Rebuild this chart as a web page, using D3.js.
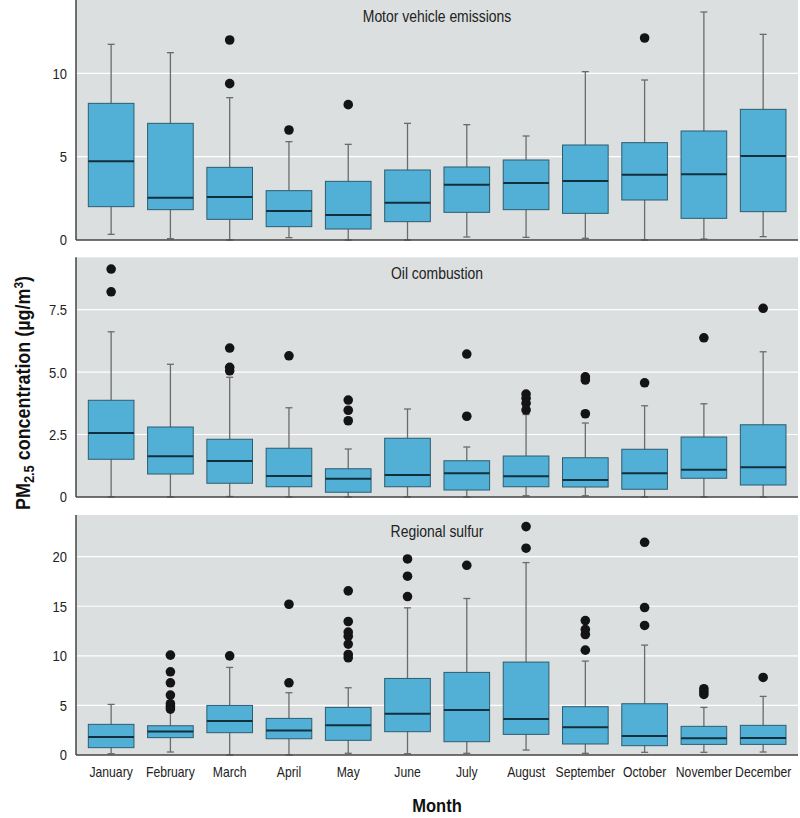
<!DOCTYPE html>
<html>
<head>
<meta charset="utf-8">
<script src="https://cdn.jsdelivr.net/npm/d3@7"></script>
<style>
  html, body { margin: 0; padding: 0; background: #fff; }
  svg { display: block; }
  text { font-family: "Liberation Sans", Arial, sans-serif; }
</style>
</head>
<body>
<svg id="chart" width="800" height="818"></svg>
<script>
const months = ["January","February","March","April","May","June","July","August","September","October","November","December"];

// Motor vehicle emissions
const motorLow = [0.34,0.08,0,0.14,0,0,0.18,0.16,0.1,0,0.06,0.2];
const motorQ1  = [2.0,1.82,1.24,0.8,0.66,1.1,1.66,1.82,1.6,2.4,1.3,1.7];
const motorMed = [4.72,2.54,2.58,1.74,1.5,2.24,3.32,3.42,3.54,3.92,3.94,5.04];
const motorQ3  = [8.2,7.0,4.36,2.96,3.52,4.2,4.38,4.8,5.7,5.84,6.54,7.84];
const motorHigh= [11.74,11.24,8.54,5.9,5.74,7.0,6.92,6.24,10.1,9.6,13.68,12.34];
const motorOut = [[],[],[12.0,9.38],[6.6],[8.12],[],[],[],[],[12.12],[],[]];
const motorTicks = [0,5,10];

// Oil combustion
const oilLow = [0,0,0.02,0,0,0,0,0.05,0.05,0,0,0];
const oilQ1  = [1.51,0.92,0.55,0.41,0.19,0.41,0.28,0.41,0.4,0.31,0.75,0.48];
const oilMed = [2.56,1.63,1.44,0.84,0.73,0.88,0.95,0.83,0.68,0.95,1.09,1.19];
const oilQ3  = [3.87,2.8,2.31,1.95,1.13,2.35,1.45,1.64,1.57,1.91,2.4,2.89];
const oilHigh= [6.61,5.31,4.79,3.57,1.92,3.52,2.0,3.3,2.96,3.65,3.73,5.81];
const oilOut = [[9.12,8.21],[],[5.96,5.19,5.05],[5.65],[3.88,3.47,3.05],[],[5.72,3.23],[4.12,3.95,3.75,3.48],[4.81,4.68,3.33],[4.57],[6.37],[7.55]];
const oilTicks = [0,2.5,5.0,7.5];

// Regional sulfur
const sulfLow = [0.13,0.3,0,0,0.17,0.13,0.17,0.5,0.17,0.27,0.27,0.3];
const sulfQ1  = [0.74,1.75,2.25,1.64,1.48,2.35,1.34,2.08,1.11,0.94,1.07,1.07];
const sulfMed = [1.81,2.38,3.42,2.48,2.99,4.16,4.53,3.63,2.79,1.91,1.68,1.71];
const sulfQ3  = [3.09,2.95,5.0,3.69,4.8,7.72,8.33,9.37,4.87,5.17,2.89,2.99];
const sulfHigh= [5.1,4.4,8.83,6.28,6.78,14.84,15.78,19.4,9.47,11.08,4.8,5.91];
const sulfOut = [[],[10.07,8.39,7.28,6.04,5.17,4.9,4.63],[10.0],[15.2,7.28],[16.55,13.46,12.39,11.98,11.18,10.14,9.8],[19.77,18.03,15.98],[19.13],[23.03,20.85],[13.56,12.66,12.15,10.57],[21.45,14.87,13.06],[6.68,6.4,6.11],[7.82]];
const sulfTicks = [0,5,10,15,20];

const panelTitles = ["Motor vehicle emissions","Oil combustion","Regional sulfur"];

const panels = [
  {title: panelTitles[0], low: motorLow, q1: motorQ1, med: motorMed, q3: motorQ3, high: motorHigh, out: motorOut, ticks: motorTicks, max: 14.4, top: 0, bottom: 240, fmt: d => d3.format("d")(d)},
  {title: panelTitles[1], low: oilLow, q1: oilQ1, med: oilMed, q3: oilQ3, high: oilHigh, out: oilOut, ticks: oilTicks, max: 9.59, top: 257.3, bottom: 497, fmt: d => d === 0 ? "0" : d3.format(".1f")(d)},
  {title: panelTitles[2], low: sulfLow, q1: sulfQ1, med: sulfMed, q3: sulfQ3, high: sulfHigh, out: sulfOut, ticks: sulfTicks, max: 24.2, top: 515, bottom: 755, fmt: d => d3.format("d")(d)}
];

const svg = d3.select("#chart");
const left = 76, right = 798;
const x = d3.scaleBand().domain(months).range([81.5, 792.8]);
const bw = x.bandwidth() * 0.77;
const cx = m => x(m) + x.bandwidth() / 2;
const SX = 0.84; // horizontal condensing for the narrow face

const boxFill = "#52b0d6", boxStroke = "#2b5d70", medColor = "#11303c", whiskColor = "#6b6b6b";

panels.forEach((p, pi) => {
  const y = d3.scaleLinear().domain([0, p.max]).range([p.bottom, p.top]);
  const g = svg.append("g");
  g.append("rect").attr("x", left).attr("y", p.top).attr("width", right - left).attr("height", p.bottom - p.top).attr("fill", "#dcdfe0");
  // gridlines
  g.selectAll(".grid").data(p.ticks.filter(t => t > 0)).join("line")
    .attr("x1", left).attr("x2", right).attr("y1", d => y(d)).attr("y2", d => y(d))
    .attr("stroke", "#ffffff").attr("stroke-width", 1.2);
  // axis
  const ax = g.append("g").attr("transform", `translate(${left - 9},0)`)
    .call(d3.axisLeft(y).tickValues(p.ticks).tickFormat(p.fmt).tickSize(0).tickPadding(0));
  ax.select(".domain").remove();
  ax.selectAll("text").attr("font-size", 15.5).attr("fill", "#222").attr("transform", `scale(${SX},1)`);
  // title
  g.append("g").attr("transform", `translate(437,${p.top + 22}) scale(0.87,1)`)
    .append("text").attr("text-anchor", "middle")
    .attr("font-size", 16).attr("fill", "#222").text(p.title);

  const data = months.map((m, i) => ({m, low: p.low[i], q1: p.q1[i], med: p.med[i], q3: p.q3[i], high: p.high[i], out: p.out[i]}));
  const bx = g.selectAll(".bx").data(data).join("g");
  // whiskers
  bx.append("line").attr("x1", d => cx(d.m)).attr("x2", d => cx(d.m))
    .attr("y1", d => y(d.low)).attr("y2", d => y(d.high)).attr("stroke", whiskColor).attr("stroke-width", 1.3);
  bx.append("line").attr("x1", d => cx(d.m) - 3.5).attr("x2", d => cx(d.m) + 3.5)
    .attr("y1", d => y(d.high)).attr("y2", d => y(d.high)).attr("stroke", whiskColor).attr("stroke-width", 1.3);
  bx.append("line").attr("x1", d => cx(d.m) - 3.5).attr("x2", d => cx(d.m) + 3.5)
    .attr("y1", d => y(d.low)).attr("y2", d => y(d.low)).attr("stroke", whiskColor).attr("stroke-width", 1.3);
  // box
  bx.append("rect").attr("x", d => cx(d.m) - bw / 2).attr("width", bw)
    .attr("y", d => y(d.q3)).attr("height", d => y(d.q1) - y(d.q3))
    .attr("fill", boxFill).attr("stroke", boxStroke).attr("stroke-width", 1);
  bx.append("line").attr("x1", d => cx(d.m) - bw / 2).attr("x2", d => cx(d.m) + bw / 2)
    .attr("y1", d => y(d.med)).attr("y2", d => y(d.med)).attr("stroke", medColor).attr("stroke-width", 2);
  // outliers
  bx.selectAll("circle").data(d => d.out.map(v => ({m: d.m, v}))).join("circle")
    .attr("cx", d => cx(d.m)).attr("cy", d => y(d.v)).attr("r", 4.8).attr("fill", "#141414");
  // axes lines
  g.append("line").attr("x1", left).attr("x2", left).attr("y1", p.top).attr("y2", p.bottom)
    .attr("stroke", "#444").attr("stroke-width", 1.5);
  g.append("line").attr("x1", left).attr("x2", right).attr("y1", p.bottom).attr("y2", p.bottom)
    .attr("stroke", "#444").attr("stroke-width", 1.5);

  if (pi === 2) {
    const xa = svg.append("g").attr("transform", `translate(0,${p.bottom})`)
      .call(d3.axisBottom(x).tickSize(0).tickPadding(12));
    xa.select(".domain").remove();
    xa.selectAll("text").attr("font-size", 14.5).attr("fill", "#222").attr("transform", `scale(${SX},1)`);
  }
});

// axis titles
svg.append("g").attr("transform", "translate(437,812) scale(0.87,1)")
  .append("text").attr("text-anchor", "middle")
  .attr("font-size", 19).attr("font-weight", "bold").attr("fill", "#111").text("Month");

const yt = svg.append("g").attr("transform", "translate(30,393) rotate(-90) scale(0.92,1)")
  .append("text").attr("text-anchor", "middle").attr("font-size", 19.5).attr("font-weight", "bold").attr("fill", "#111");
yt.append("tspan").text("PM");
yt.append("tspan").attr("font-size", 14).attr("dy", 4).text("2.5");
yt.append("tspan").attr("dy", -4).text(" concentration (µg/m");
yt.append("tspan").attr("font-size", 13).attr("dy", -7).text("3");
yt.append("tspan").attr("dy", 7).text(")");
</script>
</body>
</html>
